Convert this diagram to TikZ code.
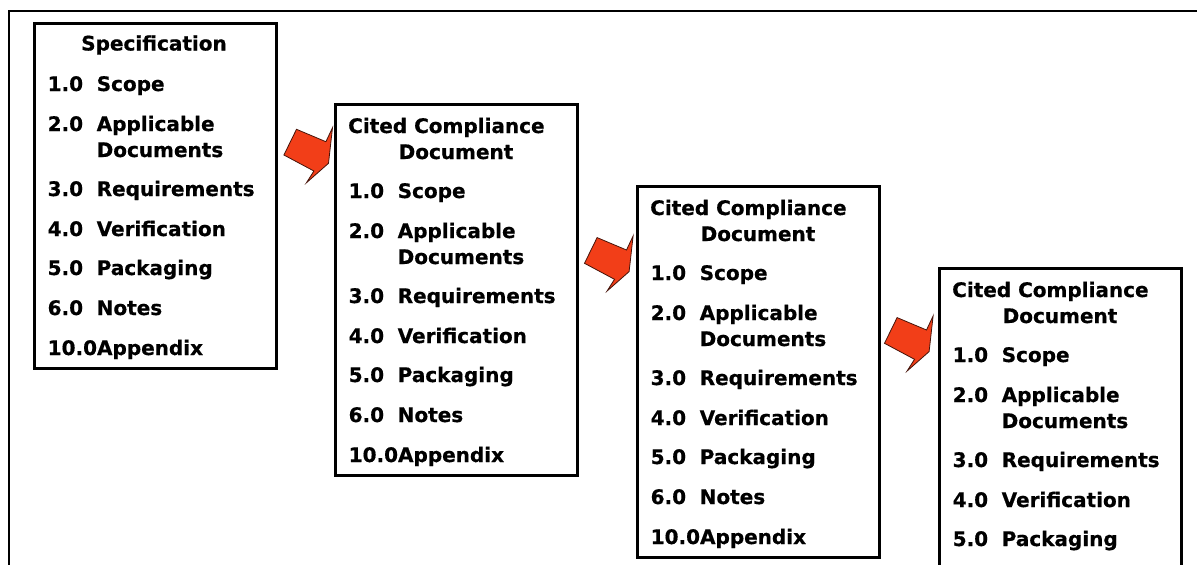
\documentclass[tikz,border=0pt]{standalone}
\usepackage{fontspec}
\setmainfont{DejaVu Sans}
\newfontfamily\heavyfont{DejaVu Sans}[UprightFont=*-Bold, FakeBold=0.6]
\usetikzlibrary{calc}

\definecolor{arrowred}{RGB}{242,62,24}
\definecolor{arrowedge}{RGB}{70,20,10}

\tikzset{
  docbox/.style={draw=black, line width=3.2pt, rectangle, anchor=north west,
    inner sep=0pt, minimum width=242pt, minimum height=#1},
  txt/.style={anchor=base west, inner sep=0pt, font=\heavyfont\fontsize{20}{24}\selectfont},
  ctxt/.style={anchor=base, inner sep=0pt, font=\heavyfont\fontsize{20}{24}\selectfont},
  pics/flowarrow/.style={code={
    \draw[fill=arrowred, draw=arrowedge, line width=0.8pt, line join=miter]
      (0,0) -- (12.6,-25.7) -- (42,-13.3) -- (48.6,-27.3) -- (44.6,8.3)
      -- (22.6,27.7) -- (30,16) -- cycle;}}
}

% first rows of a document box: #1 box name, #2 baseline of the first row below the box top
\newcommand\sectionrows[2]{%
  \node[txt] (#1-n1) at ($(#1.north west)+(14.5,#2)$) {1.0};
  \node[txt] (#1-s1) at ($(#1.north west)+(63.5,#2)$) {Scope};
  \node[txt] (#1-n2) at ($(#1.north west)+(14.5,#2+40)$) {2.0};
  \node[txt] (#1-s2) at ($(#1.north west)+(63.5,#2+40)$) {Applicable};
  \node[txt] (#1-s2b) at ($(#1.north west)+(63.5,#2+66)$) {Documents};
  \node[txt] (#1-n3) at ($(#1.north west)+(14.5,#2+105)$) {3.0};
  \node[txt] (#1-s3) at ($(#1.north west)+(63.5,#2+105)$) {Requirements};
  \node[txt] (#1-n4) at ($(#1.north west)+(14.5,#2+145)$) {4.0};
  \node[txt] (#1-s4) at ($(#1.north west)+(63.5,#2+145)$) {Verification};
  \node[txt] (#1-n5) at ($(#1.north west)+(14.5,#2+184)$) {5.0};
  \node[txt] (#1-s5) at ($(#1.north west)+(63.5,#2+184)$) {Packaging};
}
% closing rows of a document box
\newcommand\closingrows[2]{%
  \node[txt] (#1-n6) at ($(#1.north west)+(14.5,#2+224)$) {6.0};
  \node[txt] (#1-s6) at ($(#1.north west)+(63.5,#2+224)$) {Notes};
  \node[txt] (#1-n10) at ($(#1.north west)+(14.5,#2+264)$) {10.0Appendix};
}

% heading of a cited compliance document box
\newcommand\citedhead[1]{%
  \node[txt] (#1-h1) at ($(#1.north west)+(14,30)$) {Cited Compliance};
  \node[ctxt] (#1-h2) at ($(#1.north west)+(122,56)$) {Document};
}

\begin{document}
\begin{tikzpicture}[x=1pt, y=-1pt]
  \clip (0,0) rectangle (1197,565);
  \fill[white] (0,0) rectangle (1197,565);

  % outer frame
  \draw[line width=2pt] (9,570) -- (9,11) -- (1205,11);

  % document boxes
  \node[docbox=345pt] (b1) at (33,22) {};
  \node[docbox=371pt] (b2) at (334,103) {};
  \node[docbox=371pt] (b3) at (636,185) {};
  \node[docbox=371pt] (b4) at (938,267) {};

  % specification
  \node[ctxt] (b1-h) at ($(b1.north west)+(121,28.5)$) {Specification};
  \sectionrows{b1}{69}
  \closingrows{b1}{69}

  % cited compliance documents
  \citedhead{b2}
  \sectionrows{b2}{95}
  \closingrows{b2}{95}
  \citedhead{b3}
  \sectionrows{b3}{95}
  \closingrows{b3}{95}
  \citedhead{b4}
  \sectionrows{b4}{95}

  % flow arrows between boxes
  \pic at ($(b1.north east)+(5.7,133)$) {flowarrow};
  \pic at ($(b2.north east)+(5.3,160.3)$) {flowarrow};
  \pic at ($(b3.north east)+(3.3,158.3)$) {flowarrow};
\end{tikzpicture}
\end{document}
